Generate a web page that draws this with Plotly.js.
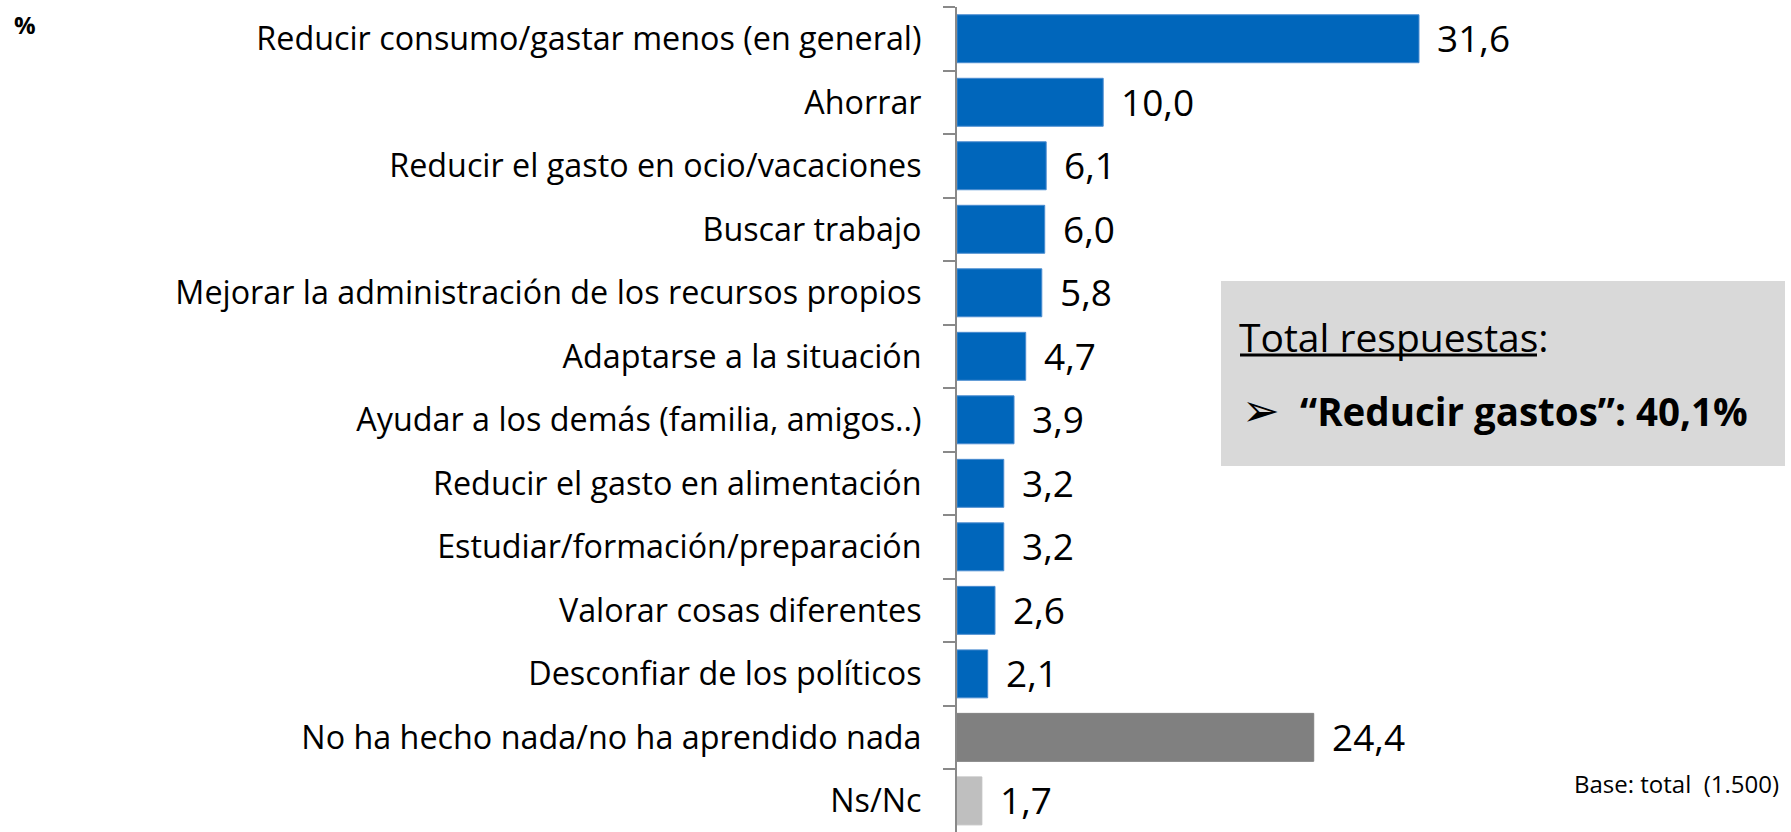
<!DOCTYPE html>
<html>
<head>
<meta charset="utf-8">
<script src="https://cdn.plot.ly/plotly-3.0.1.min.js"></script>
<style>
  html, body { margin: 0; padding: 0; background: #ffffff; }
  #chart { width: 1791px; height: 832px; }
</style>
</head>
<body>
<div id="chart"></div>
<script>
// ---- data ----
const categories = [
  "Reducir consumo/gastar menos (en general)",
  "Ahorrar",
  "Reducir el gasto en ocio/vacaciones",
  "Buscar trabajo",
  "Mejorar la administración de los recursos propios",
  "Adaptarse a la situación",
  "Ayudar a los demás (familia, amigos..)",
  "Reducir el gasto en alimentación",
  "Estudiar/formación/preparación",
  "Valorar cosas diferentes",
  "Desconfiar de los políticos",
  "No ha hecho nada/no ha aprendido nada",
  "Ns/Nc"
];
const values = [31.6, 10.0, 6.1, 6.0, 5.8, 4.7, 3.9, 3.2, 3.2, 2.6, 2.1, 24.4, 1.7];
const unitLabel = "%";
const boxTitle = "Total respuestas";
const boxLine = "“Reducir gastos”: 40,1%";
const baseNote = "Base: total \u00a0(1.500)";

// ---- styles ----
const BLUE = "#0066BB", DARK = "#808080", LIGHT = "#BFBFBF";
const barColors = categories.map((c, i) => i < 11 ? BLUE : (i === 11 ? DARK : LIGHT));
const lineColors = categories.map((c, i) => i < 11 ? "#4A8CD0" : (i === 11 ? DARK : LIGHT));

// ---- geometry helpers (pixel -> paper) ----
const W = 1791, H = 832;
const M = { l: 957, r: 15, t: 7, b: 0 };
const PW = W - M.l - M.r, PH = H - M.t - M.b;
const PX_PER_UNIT = 14.62;
const px2x = px => (px - M.l) / PW;
const py2y = py => 1 - (py - M.t) / PH;

const fmt = v => v.toFixed(1).replace(".", ",");

const trace = {
  type: "bar",
  orientation: "h",
  x: values,
  y: categories,
  width: 0.755,
  marker: { color: barColors, line: { color: lineColors, width: 1 } },
  hoverinfo: "none"
};

const valueAnnotations = values.map((v, i) => ({
  x: v, y: categories[i], xref: "x", yref: "y",
  text: fmt(v), showarrow: false,
  xanchor: "left", yanchor: "middle", xshift: 16, yshift: 1,
  font: { family: "Open Sans", size: 37, color: "#000000" }
}));

const layout = {
  width: W, height: H,
  margin: M,
  paper_bgcolor: "#ffffff", plot_bgcolor: "#ffffff",
  showlegend: false,
  bargap: 0,
  xaxis: {
    range: [0, PW / PX_PER_UNIT],
    visible: false, fixedrange: true
  },
  yaxis: {
    type: "category",
    range: [12.49, -0.5],
    showline: true, linecolor: "#898989", linewidth: 2,
    ticks: "outside", ticklen: 12, tickwidth: 2, tickcolor: "#898989",
    tickson: "boundaries",
    showgrid: false, zeroline: false,
    ticklabelstandoff: 27,
    tickfont: { family: "Open Sans", size: 32.3, color: "#000000" },
    fixedrange: true
  },
  shapes: [
    { type: "rect", xref: "paper", yref: "paper",
      x0: px2x(1221), x1: px2x(1785), y0: py2y(466), y1: py2y(281),
      fillcolor: "#D9D9D9", line: { width: 0 }, layer: "below" },
    { type: "line", xref: "paper", yref: "paper",
      x0: px2x(1240), x1: px2x(1537), y0: py2y(355), y1: py2y(355),
      line: { color: "#000000", width: 3 } }
  ],
  annotations: valueAnnotations.concat([
    { xref: "paper", yref: "paper", x: px2x(1237), y: py2y(336),
      xanchor: "left", yanchor: "middle", showarrow: false,
      text: boxTitle + ":",
      font: { family: "Open Sans", size: 39, color: "#000000" } },
    { xref: "paper", yref: "paper", x: px2x(1240), y: py2y(410),
      xanchor: "left", yanchor: "middle", showarrow: false,
      text: "➢",
      font: { family: "DejaVu Sans", size: 45, color: "#000000" } },
    { xref: "paper", yref: "paper", x: px2x(1298), y: py2y(411),
      xanchor: "left", yanchor: "middle", showarrow: false,
      text: "<b>" + boxLine + "</b>",
      font: { family: "Open Sans", size: 38.5, color: "#000000" } },
    { xref: "paper", yref: "paper", x: px2x(1781), y: py2y(783),
      xanchor: "right", yanchor: "middle", showarrow: false,
      text: baseNote,
      font: { family: "Open Sans", size: 24, color: "#000000" } },
    { xref: "paper", yref: "paper", x: px2x(12), y: py2y(24),
      xanchor: "left", yanchor: "middle", showarrow: false,
      text: "<b>" + unitLabel + "</b>",
      font: { family: "Open Sans", size: 24, color: "#000000" } }
  ])
};

Plotly.newPlot("chart", [trace], layout, { displayModeBar: false, staticPlot: true });
</script>
</body>
</html>
